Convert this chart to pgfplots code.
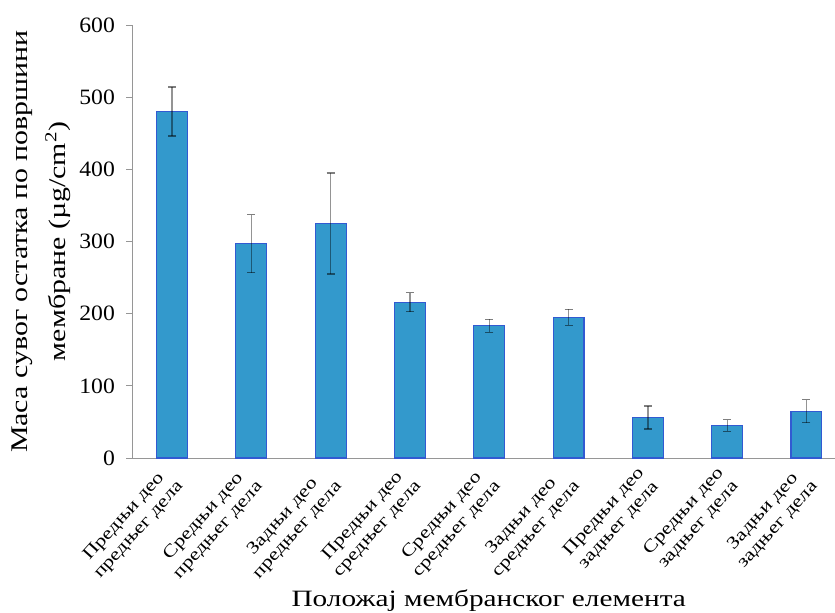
\documentclass[border=0pt]{standalone}
\usepackage{pgfplots}
\pgfplotsset{compat=1.18}
\usetikzlibrary{calc}
\usepackage{fontspec}
\setmainfont{Liberation Serif}
\newfontfamily\widefont{Liberation Serif}[FakeStretch=1.25]
\newfontfamily\digitfont{Liberation Serif}[FakeStretch=1.08]
\definecolor{barfill}{RGB}{51,153,204}
\definecolor{baredge}{RGB}{50,90,210}
\definecolor{axgray}{RGB}{150,150,150}
\begin{document}
\begin{tikzpicture}
\begin{axis}[
  name=ax,
  scale only axis,
  width=702.6bp, height=433bp,
  xmin=-0.5, xmax=8.36,
  ymin=0, ymax=600,
  ytick={0,100,...,600},
  xtick={0,...,8},
  xticklabels={
    {Предњи део\\предњег дела},
    {Средњи део\\предњег дела},
    {Задњи део\\предњег дела},
    {Предњи део\\средњег дела},
    {Средњи део\\средњег дела},
    {Задњи део\\средњег дела},
    {Предњи део\\задњег дела},
    {Средњи део\\задњег дела},
    {Задњи део\\задњег дела}},
  extra x ticks={-0.5,0.5,1.5,2.5,3.5,4.5,5.5,6.5,7.5},
  extra x tick labels={},
  extra x tick style={major tick length=6bp, tick style={draw=axgray, line width=0.8pt}},
  x tick style={draw=none},
  major tick length=6bp,
  y tick style={draw=axgray, line width=0.8pt},
  tick align=outside,
  axis x line*=bottom,
  axis y line*=left,
  axis line style={draw=axgray, line width=1pt, -},
  /pgf/number format/assume math mode=true,
  yticklabel style={font=\digitfont\fontsize{22}{24}\selectfont, xshift=-8bp},
  xticklabel style={xshift=-12bp, font=\widefont\fontsize{17.5}{20}\selectfont, rotate=48, anchor=north east, align=center, inner sep=1bp},
  ylabel={Маса сувог остатка по површини\\мембране (µg/cm\textsuperscript{2})},
  ylabel style={align=center, font=\widefont\fontsize{24}{38}\selectfont, yshift=2bp},
  xlabel={Положај мембранског елемента},
  xlabel style={font=\widefont\fontsize{23.5}{26}\selectfont, at={(rel axis cs:0.5,0)}, anchor=base, yshift=-148bp, xshift=5bp},
  clip=false,
]
\addplot[ybar, bar width=0.39, fill=barfill, draw=baredge, line width=1.1pt]
  coordinates {
  (0,480) (1,297) (2,325) (3,216) (4,183) (5,195) (6,56) (7,45) (8,65)
  };
\addplot[draw=none, mark=none,
  error bars/.cd, y dir=both, y explicit,
  error bar style={draw=black, opacity=0.42, line width=1.3pt},
  error mark options={draw=black, opacity=0.5, line width=1.3pt, mark size=4bp, rotate=90}]
  coordinates {
  (0,480) +- (0,34)
  (1,297) +- (0,40)
  (2,325) +- (0,70)
  (3,216) +- (0,13)
  (4,183) +- (0,9)
  (5,195) +- (0,11)
  (6,56) +- (0,16)
  (7,45) +- (0,8)
  (8,65) +- (0,16)
  };
\end{axis}
\pgfresetboundingbox
\path ($(ax.south west)+(-132.4bp,-155bp)$) rectangle ($(ax.north east)+(0bp,25bp)$);
\end{tikzpicture}
\end{document}
